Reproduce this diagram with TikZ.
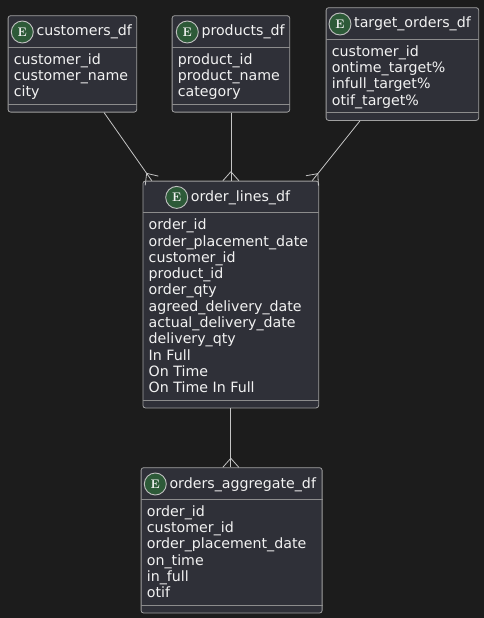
\documentclass[tikz,border=0pt]{standalone}
\usepackage{fontspec}
\newfontfamily\dv{DejaVu Sans}
\usetikzlibrary{calc}
\definecolor{bgc}{HTML}{1C1C1C}
\definecolor{boxfill}{HTML}{2F3038}
\definecolor{boxline}{HTML}{A0A0A0}
\definecolor{sepline}{HTML}{8C8C8C}
\definecolor{txt}{HTML}{F2F2F2}
\definecolor{circfill}{HTML}{2D5A38}
\definecolor{circline}{HTML}{C0C0C0}
\definecolor{connc}{HTML}{C4C4C4}
\tikzset{
  ebox/.style={draw=boxline, fill=boxfill, rounded corners=2.5pt, line width=0.8pt, inner sep=0pt, anchor=north west},
  esep/.style={draw=sepline, line width=0.8pt},
  ecirc/.style={circle, draw=circline, fill=circfill, line width=0.9pt, minimum size=22pt, inner sep=0pt, font=\rmfamily\bfseries\fontsize{12.5}{12}\selectfont, text=txt},
  etitle/.style={font=\dv\fontsize{14.2}{16}\selectfont, text=txt, inner sep=0pt, anchor=base west},
  eattr/.style={font=\dv\fontsize{14.2}{16}\selectfont, text=txt, inner sep=0pt, anchor=base west},
  conn/.style={draw=connc, line width=0.8pt},
}
% #1 name, #2 x, #3 top y, #4 width, #5 n attrs, #6 circle offset, #7 title, #8 attrs
\newcommand\ent[8]{%
  \node[ebox, minimum width=#4pt, minimum height={47.5pt+16.3pt*#5}] (#1) at (#2,#3) {};
  \draw[esep] ($(#1.north west)+(0,32)$) -- ($(#1.north east)+(0,32)$);
  \draw[esep] ($(#1.south west)+(0,-8)$) -- ($(#1.south east)+(0,-8)$);
  \path[draw=circline, fill=circfill, line width=0.9pt] ($(#1.north west)+(#6,16.7)$) circle[radius=11pt];
  \node[inner sep=0pt, font=\rmfamily\bfseries\fontsize{12.5}{12}\selectfont, text=txt] (#1-c) at ($(#1.north west)+(#6,16.7)$) {E};
  \node[etitle] (#1-t) at ($(#1-c.center)+(14,4)$) {#7};
  \foreach \a [count=\i from 0] in {#8}
    \node[eattr] (#1-a\i) at ($(#1.north west)+(6,49+16.3*\i)$) {\a};
}
\newcommand\crowline[2]{%
  \draw[conn] (#1) -- (#2);
  \draw[conn] ($(#2)!9pt!(#1)$) -- ($(#2)!8pt!90:(#1)$);
  \draw[conn] ($(#2)!9pt!(#1)$) -- ($(#2)!8pt!-90:(#1)$);
}
\begin{document}
\begin{tikzpicture}[x=1pt,y=-1pt]
\fill[bgc] (0,0) rectangle (484,618);
\useasboundingbox (0,0) rectangle (484,618);

\ent{cust}{7.7}{15.3}{128.6}{3}{14.6}{customers\_df}{customer\_id,customer\_name,city}
\ent{prod}{171.7}{15.3}{117.6}{3}{15.6}{products\_df}{product\_id,product\_name,category}
\ent{tgt}{325.7}{7.3}{152.6}{4}{14.3}{target\_orders\_df}{customer\_id,ontime\_target\%,infull\_target\%,otif\_target\%}
\ent{ol}{142.5}{180.7}{175.8}{11}{34.2}{order\_lines\_df}{order\_id,order\_placement\_date,customer\_id,product\_id,order\_qty,agreed\_delivery\_date,actual\_delivery\_date,delivery\_qty,In Full,On Time,On Time In Full}
\ent{agg}{140.7}{467.3}{181}{6}{14.6}{orders\_aggregate\_df}{order\_id,customer\_id,order\_placement\_date,on\_time,in\_full,otif}

\coordinate (c1s) at ($(cust.south west)+(96.3,0)$);
\coordinate (c1e) at ($(ol.north west)+(9.3,0)$);
\coordinate (c2s) at (prod.south);
\coordinate (c2e) at (prod.south |- ol.north);
\coordinate (c3s) at ($(tgt.south west)+(34.3,0)$);
\coordinate (c3e) at ($(ol.north west)+(169.7,0)$);
\coordinate (c4s) at (ol.south);
\coordinate (c4e) at (ol.south |- agg.north);
\crowline{c1s}{c1e}
\crowline{c2s}{c2e}
\crowline{c3s}{c3e}
\crowline{c4s}{c4e}
\end{tikzpicture}
\end{document}
